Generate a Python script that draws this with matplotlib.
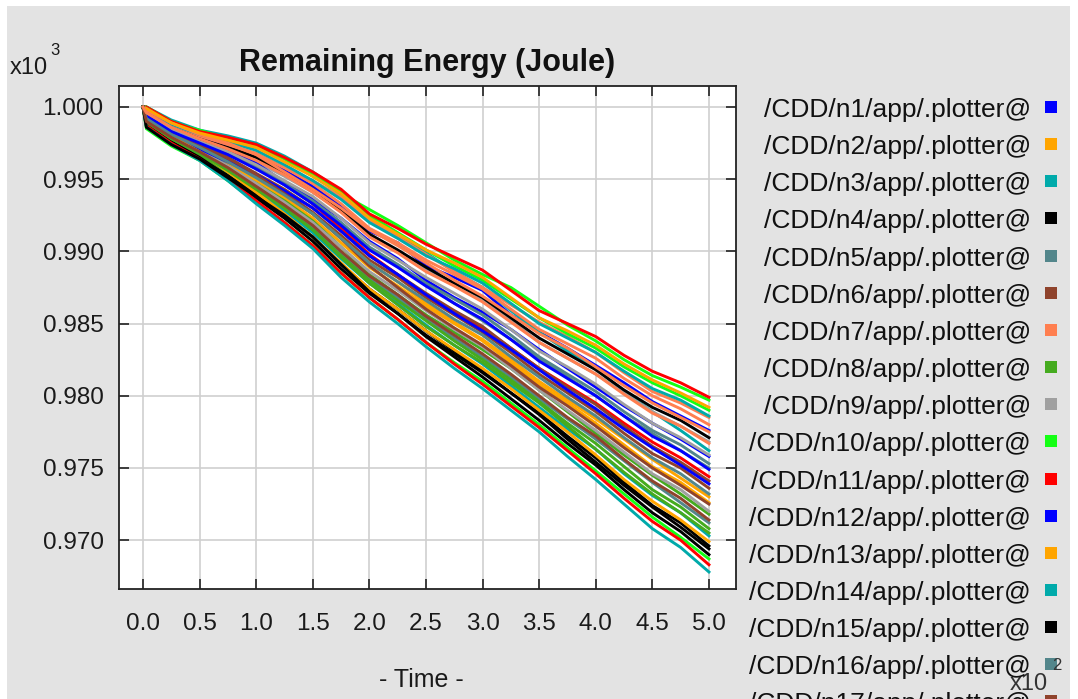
import matplotlib
matplotlib.use("Agg")
import matplotlib.pyplot as plt
from matplotlib.patches import Rectangle

plt.rcParams['font.family'] = ['Liberation Sans', 'DejaVu Sans']

# ---------------- data ----------------
time_s = [0, 3, 25, 50, 75, 100, 125, 150, 175, 200, 225, 250, 275,
          300, 325, 350, 375, 400, 425, 450, 475, 500]

x_ticks = [0.0, 0.5, 1.0, 1.5, 2.0, 2.5, 3.0, 3.5, 4.0, 4.5, 5.0]
x_tick_labels = ["0.0", "0.5", "1.0", "1.5", "2.0", "2.5", "3.0", "3.5", "4.0", "4.5", "5.0"]
y_ticks = [0.970, 0.975, 0.980, 0.985, 0.990, 0.995, 1.000]
y_tick_labels = ["0.970", "0.975", "0.980", "0.985", "0.990", "0.995", "1.000"]

palette = ['#0000ff', '#ffa500', '#00aaaa', '#000000', '#53868b', '#8f432c',
           '#ff7f50', '#45ab1f', '#a0a0a0', '#14ff14', '#ff0000']

# node number of each row below (rows listed from top of band to bottom)
node_ids = [22, 21, 35, 10, 25, 7, 18, 1, 29, 15, 9, 40, 3, 31, 12, 27, 5, 34, 11, 17,
            23, 6, 38, 13, 2, 28, 20, 8, 39, 16, 30, 19, 14, 24, 4, 37, 26, 32, 33, 36]

# remaining energy (Joule) of each node at time_s
remaining_energy = [
    [1000.0, 1000.0, 999.0, 998.3, 997.9, 997.4, 996.5, 995.5, 994.3, 992.6, 991.6, 990.5, 989.6, 988.7, 987.3, 985.9, 985.0, 984.1, 982.8, 981.7, 980.9, 979.9],
    [1000.0, 1000.0, 998.9, 998.4, 997.8, 997.2, 996.4, 995.2, 994.0, 992.9, 991.8, 990.6, 989.4, 988.4, 987.5, 986.2, 984.9, 983.8, 982.5, 981.4, 980.6, 979.7],
    [1000.0, 999.9, 998.9, 998.2, 997.7, 997.2, 996.2, 995.2, 994.0, 992.3, 991.2, 990.1, 989.2, 988.2, 986.8, 985.4, 984.5, 983.5, 982.2, 981.1, 980.2, 979.2],
    [1000.0, 1000.0, 999.0, 998.3, 997.8, 997.3, 996.5, 995.4, 994.1, 992.5, 991.3, 990.1, 989.0, 988.0, 986.7, 985.4, 984.3, 983.3, 982.0, 980.9, 980.0, 979.0],
    [1000.0, 999.9, 998.8, 998.1, 997.6, 997.0, 996.0, 994.9, 993.6, 992.0, 990.9, 989.7, 988.8, 987.8, 986.4, 985.0, 984.0, 983.0, 981.7, 980.5, 979.7, 978.6],
    [1000.0, 999.8, 998.7, 997.9, 997.3, 996.7, 995.8, 994.9, 993.8, 992.2, 991.0, 989.8, 988.6, 987.5, 986.3, 985.1, 984.1, 983.0, 981.6, 980.3, 979.5, 978.5],
    [1000.0, 999.8, 998.8, 998.0, 997.4, 996.8, 995.8, 994.7, 993.3, 991.6, 990.6, 989.4, 988.4, 987.4, 986.0, 984.6, 983.6, 982.6, 981.2, 980.0, 979.1, 978.0],
    [1000.0, 999.7, 998.7, 997.9, 997.3, 996.6, 995.6, 994.5, 993.1, 991.4, 990.6, 989.0, 988.2, 987.3, 985.6, 984.4, 983.3, 982.1, 980.9, 979.6, 978.6, 977.6],
    [1000.0, 999.8, 998.9, 998.1, 997.5, 996.7, 995.5, 994.3, 993.0, 991.5, 990.4, 989.2, 988.0, 986.9, 985.6, 984.3, 983.3, 982.0, 980.7, 979.5, 978.5, 977.5],
    [1000.0, 999.7, 998.6, 997.8, 997.2, 996.5, 995.4, 994.3, 992.9, 991.2, 990.1, 988.9, 987.8, 986.8, 985.4, 984.0, 982.9, 981.8, 980.4, 979.2, 978.3, 977.1],
    [1000.0, 999.4, 998.3, 997.5, 996.9, 996.2, 995.2, 994.1, 992.8, 991.1, 990.0, 988.8, 987.7, 986.6, 985.2, 983.7, 982.6, 981.5, 980.2, 978.9, 977.9, 976.8],
    [1000.0, 999.6, 998.6, 997.8, 997.1, 996.3, 995.3, 994.1, 992.7, 991.0, 989.9, 988.6, 987.6, 986.5, 985.1, 983.7, 982.6, 981.5, 980.1, 978.8, 977.9, 976.7],
    [1000.0, 1000.0, 999.1, 998.4, 998.0, 997.5, 996.6, 995.5, 994.2, 992.4, 991.2, 989.9, 988.6, 987.5, 985.9, 984.4, 983.1, 981.9, 980.3, 978.9, 977.6, 976.2],
    [1000.0, 999.5, 998.5, 997.6, 996.9, 996.0, 994.9, 993.8, 992.3, 990.6, 989.4, 988.2, 987.1, 986.0, 984.6, 983.1, 982.0, 980.8, 979.4, 978.1, 977.1, 975.9],
    [1000.0, 999.8, 998.8, 997.9, 997.2, 996.1, 994.8, 993.6, 992.3, 990.7, 989.5, 988.0, 986.8, 985.8, 984.6, 983.2, 981.9, 980.6, 979.3, 978.1, 977.0, 975.8],
    [1000.0, 999.5, 998.4, 997.5, 996.8, 995.8, 994.7, 993.5, 992.0, 990.3, 989.1, 987.8, 986.7, 985.6, 984.2, 982.7, 981.5, 980.3, 978.9, 977.6, 976.6, 975.3],
    [1000.0, 999.6, 998.6, 997.8, 996.9, 995.8, 994.6, 993.3, 991.7, 990.2, 989.0, 987.7, 986.4, 985.2, 983.9, 982.6, 981.3, 980.0, 978.6, 977.4, 976.2, 975.0],
    [1000.0, 999.4, 998.3, 997.5, 996.7, 995.7, 994.6, 993.3, 991.8, 990.1, 988.9, 987.6, 986.4, 985.3, 983.9, 982.4, 981.2, 980.0, 978.6, 977.2, 976.2, 974.9],
    [1000.0, 999.7, 998.7, 997.9, 997.1, 996.0, 994.8, 993.3, 991.6, 989.8, 988.4, 987.0, 985.8, 984.7, 983.3, 981.9, 980.7, 979.5, 978.1, 976.8, 975.7, 974.4],
    [1000.0, 999.3, 998.2, 997.3, 996.5, 995.4, 994.3, 993.0, 991.4, 989.7, 988.4, 987.1, 985.9, 984.8, 983.3, 981.9, 980.6, 979.4, 977.9, 976.5, 975.4, 974.1],
    [1000.0, 999.2, 998.0, 997.1, 996.2, 995.3, 994.2, 993.0, 991.4, 989.7, 988.4, 987.0, 985.7, 984.5, 983.2, 981.8, 980.4, 979.1, 977.7, 976.4, 975.2, 973.9],
    [1000.0, 999.3, 998.2, 997.3, 996.3, 995.3, 994.1, 992.7, 991.1, 989.4, 988.2, 986.8, 985.6, 984.4, 983.0, 981.5, 980.2, 978.9, 977.4, 976.0, 975.0, 973.6],
    [1000.0, 999.2, 998.1, 997.2, 996.2, 995.1, 993.9, 992.6, 990.9, 989.2, 987.9, 986.6, 985.3, 984.2, 982.7, 981.3, 979.9, 978.6, 977.1, 975.7, 974.6, 973.2],
    [1000.0, 999.0, 997.9, 997.0, 996.1, 995.0, 993.8, 992.6, 990.9, 989.2, 987.9, 986.4, 985.1, 983.9, 982.5, 981.0, 979.7, 978.4, 977.0, 975.6, 974.3, 973.0],
    [1000.0, 999.2, 998.0, 997.1, 996.1, 994.9, 993.7, 992.3, 990.6, 988.9, 987.6, 986.2, 985.0, 983.8, 982.3, 980.8, 979.5, 978.1, 976.6, 975.1, 974.0, 972.6],
    [1000.0, 999.5, 998.4, 997.5, 996.5, 995.3, 994.0, 992.6, 990.9, 989.0, 987.5, 986.0, 984.7, 983.5, 982.1, 980.6, 979.3, 977.9, 976.4, 975.0, 973.8, 972.5],
    [1000.0, 999.1, 998.0, 997.0, 995.9, 994.7, 993.4, 992.0, 990.3, 988.6, 987.3, 985.9, 984.6, 983.4, 981.9, 980.4, 979.0, 977.6, 976.1, 974.6, 973.5, 972.0],
    [1000.0, 998.9, 997.7, 996.8, 995.8, 994.7, 993.5, 992.1, 990.3, 988.4, 987.0, 985.6, 984.4, 983.2, 981.9, 980.4, 978.9, 977.4, 975.9, 974.5, 973.2, 971.8],
    [1000.0, 999.0, 997.9, 996.9, 995.8, 994.5, 993.2, 991.8, 990.0, 988.3, 987.0, 985.5, 984.2, 982.9, 981.5, 980.0, 978.5, 977.2, 975.6, 974.1, 972.9, 971.4],
    [1000.0, 999.3, 998.2, 997.2, 995.9, 994.6, 993.2, 991.7, 989.9, 988.1, 986.8, 985.3, 984.0, 982.7, 981.3, 979.8, 978.4, 977.0, 975.5, 974.0, 972.6, 971.2],
    [1000.0, 999.0, 997.8, 996.8, 995.6, 994.3, 993.0, 991.5, 989.7, 988.0, 986.6, 985.2, 983.8, 982.5, 981.1, 979.6, 978.1, 976.7, 975.1, 973.5, 972.3, 970.8],
    [1000.0, 998.8, 997.6, 996.6, 995.5, 994.3, 993.0, 991.5, 989.6, 987.8, 986.3, 984.8, 983.5, 982.3, 980.9, 979.5, 977.9, 976.3, 974.7, 973.2, 971.9, 970.5],
    [1000.0, 998.9, 997.7, 996.7, 995.5, 994.2, 992.8, 991.3, 989.5, 987.8, 986.4, 984.9, 983.5, 982.2, 980.7, 979.2, 977.7, 976.3, 974.6, 973.1, 971.9, 970.3],
    [1000.0, 999.1, 998.0, 996.9, 995.5, 994.1, 992.6, 991.0, 989.2, 987.4, 986.0, 984.5, 983.2, 981.9, 980.5, 979.0, 977.5, 975.9, 974.2, 972.7, 971.4, 969.9],
    [1000.0, 998.8, 997.6, 996.6, 995.3, 993.9, 992.5, 991.0, 989.1, 987.4, 986.0, 984.5, 983.1, 981.7, 980.2, 978.8, 977.2, 975.7, 974.0, 972.4, 971.2, 969.6],
    [1000.0, 998.6, 997.4, 996.4, 995.1, 993.8, 992.5, 991.0, 989.1, 987.2, 985.7, 984.2, 982.9, 981.6, 980.2, 978.7, 977.0, 975.4, 973.8, 972.3, 970.9, 969.4],
    [1000.0, 998.7, 997.6, 996.5, 995.2, 993.7, 992.3, 990.7, 988.8, 987.1, 985.7, 984.1, 982.7, 981.3, 979.8, 978.3, 976.7, 975.2, 973.5, 971.9, 970.6, 969.0],
    [1000.0, 998.5, 997.3, 996.3, 994.9, 993.4, 992.0, 990.4, 988.5, 986.8, 985.3, 983.7, 982.3, 981.0, 979.5, 978.0, 976.4, 974.8, 973.2, 971.6, 970.2, 968.7],
    [1000.0, 998.7, 997.5, 996.4, 995.0, 993.5, 992.0, 990.4, 988.5, 986.8, 985.3, 983.7, 982.2, 980.8, 979.3, 977.8, 976.2, 974.6, 972.9, 971.3, 970.0, 968.3],
    [1000.0, 998.6, 997.4, 996.3, 994.9, 993.3, 991.8, 990.2, 988.2, 986.5, 985.0, 983.4, 981.9, 980.5, 979.0, 977.5, 975.8, 974.2, 972.5, 970.8, 969.5, 967.8],
]

# ---------------- figure ----------------
W, H = 1078, 699
fig = plt.figure(figsize=(W / 100, H / 100), dpi=100)
fig.patch.set_facecolor('white')
fig.add_artist(Rectangle((7 / W, 0), (1070 - 7) / W, (H - 6) / H,
                         transform=fig.transFigure, facecolor='#e3e3e3',
                         edgecolor='none', zorder=-10))

ax = fig.add_axes([119 / W, 1 - 589 / H, (736 - 119) / W, (589 - 86) / H])
ax.set_facecolor('white')

t_plot = [t / 100.0 for t in time_s]
order = sorted(range(len(node_ids)), key=lambda i: node_ids[i])
for i in order:
    node = node_ids[i]
    ax.plot(t_plot, [v / 1000.0 for v in remaining_energy[i]],
            color=palette[(node - 1) % len(palette)], lw=2.1, solid_joinstyle='miter')

ax.set_xlim(-0.212, 5.239)
ax.set_ylim(0.96662, 1.001454)
ax.set_xticks(x_ticks)
ax.set_xticklabels(x_tick_labels)
ax.set_yticks(y_ticks)
ax.set_yticklabels(y_tick_labels)
ax.grid(True, color='#cfcfcf', lw=1.2)
ax.set_axisbelow(True)
ax.tick_params(axis='both', direction='in', length=7, width=1.2, color='#222222',
               top=True, right=True, labelsize=17.5, labelcolor='#1a1a1a')
ax.tick_params(axis='x', pad=17)
ax.tick_params(axis='y', pad=11)
for sp in ax.spines.values():
    sp.set_linewidth(1.3)
    sp.set_color('#222222')

# titles / labels
fig.text(427.5 / W, 1 - 63 / H, "Remaining Energy (Joule)", ha='center', va='center',
         fontsize=22, fontweight='bold', color='#111111')
fig.text(421 / W, 1 - 680 / H, "- Time -", ha='center', va='center', fontsize=18,
         color='#1a1a1a')
fig.text(10 / W, 1 - 74 / H, "x10", ha='left', va='baseline', fontsize=17, color='#1a1a1a')
fig.text(50 / W, 1 - 55 / H, "3", ha='left', va='baseline', fontsize=12, color='#1a1a1a')
fig.text(1010 / W, 1 - 690 / H, "x10", ha='left', va='baseline', fontsize=17, color='#333333')
fig.text(1052 / W, 1 - 670 / H, "2", ha='left', va='baseline', fontsize=12, color='#333333')

# legend (text right aligned, colour square on the right)
n_nodes = len(node_ids)
for k in range(1, n_nodes + 1):
    yc = 110 + 37.15 * (k - 1)
    if yc > H + 30:
        break
    fig.text(1031 / W, 1 - yc / H, "/CDD/n%d/app/.plotter@" % k, ha='right', va='center',
             fontsize=19, color='#111111')
    fig.add_artist(Rectangle((1045 / W, 1 - (yc + 3) / H), 12 / W, 12 / H,
                             transform=fig.transFigure,
                             facecolor=palette[(k - 1) % len(palette)], edgecolor='none'))

fig.savefig("out.png", dpi=100)
